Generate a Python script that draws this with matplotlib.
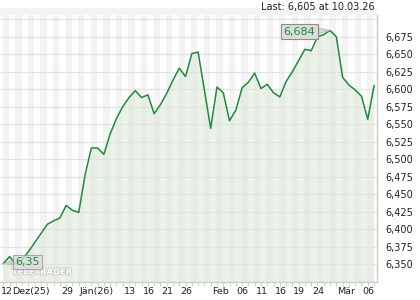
"""
Price chart, 12.12.25 - 10.03.26, TeleTrader style.
Saves out.png (420x300).
"""

import numpy as np
import pandas as pd
import matplotlib
matplotlib.use("Agg")
import matplotlib.pyplot as plt
import matplotlib.patheffects as pe
from matplotlib.patches import Rectangle
from matplotlib.transforms import offset_copy

# ── Data ──────────────────────────────────────────────────────────────────────
holidays = ["2025-12-25", "2025-12-26", "2026-01-01"]
dates = [d for d in pd.bdate_range("2025-12-12", "2026-03-10")
         if d.strftime("%Y-%m-%d") not in holidays]

prices = [
    6.351, 6.361, 6.350, 6.357, 6.368, 6.381, 6.394, 6.407, 6.412, 6.416,
    6.434, 6.427, 6.424, 6.477, 6.516, 6.516, 6.507, 6.536, 6.558, 6.575,
    6.588, 6.598, 6.588, 6.592, 6.565, 6.578, 6.594, 6.613, 6.630, 6.618,
    6.651, 6.653, 6.599, 6.544, 6.603, 6.595, 6.555, 6.570, 6.602, 6.610,
    6.623, 6.601, 6.607, 6.595, 6.589, 6.611, 6.625, 6.641, 6.657, 6.655,
    6.675, 6.678, 6.684, 6.675, 6.617, 6.606, 6.599, 6.590, 6.557, 6.605,
]

tick_dates = ["2025-12-12", "2025-12-15", "2025-12-29", "2026-01-02",
              "2026-01-13", "2026-01-16", "2026-01-21", "2026-01-26",
              "2026-02-02", "2026-02-06", "2026-02-11", "2026-02-16",
              "2026-02-19", "2026-02-24", "2026-03-02", "2026-03-06"]
tick_labels = ["12", "Dez(25)", "29", "Jän(26)", "13", "16", "21", "26",
               "Feb", "06", "11", "16", "19", "24", "Mär", "06"]

y_ticks = [6.350, 6.375, 6.400, 6.425, 6.450, 6.475, 6.500, 6.525,
           6.550, 6.575, 6.600, 6.625, 6.650, 6.675]

last_text = "Last: 6,605 at 10.03.26"
high_label = "6,684"
low_label = "6,35"

# ── Style ─────────────────────────────────────────────────────────────────────
LINE = "#1f8a3c"
GRID = "#e2e2e2"
STRIPE = "#f3f3f3"
FILL = "#dce8d8"
TXT = "#222222"

plt.rcParams["font.family"] = "DejaVu Sans"

x = np.arange(len(prices))
date_str = [d.strftime("%Y-%m-%d") for d in dates]
tick_pos = [date_str.index(d) for d in tick_dates]

fig = plt.figure(figsize=(4.2, 3.0), dpi=100)
fig.patch.set_facecolor("white")
ax = fig.add_axes([0.0, 0.06, 377 / 420, 0.89])

y_lo, y_hi = 6.3246, 6.706
ax.set_xlim(-0.53, len(prices) - 0.53)
ax.set_ylim(y_lo, y_hi)

# top band above the plot
fig.patches.append(Rectangle((0, 0.95), 377 / 420, 0.022, transform=fig.transFigure,
                             facecolor=STRIPE, edgecolor="none", zorder=0))

# alternating day stripes
for i in range(0, len(prices), 2):
    ax.axvspan(i - 0.1, i + 0.9, color=STRIPE, lw=0, zorder=0)

for v in y_ticks + [6.700]:
    ax.axhline(v, color=GRID, lw=0.9, zorder=1)

ax.fill_between(x, prices, y_lo, color=FILL, alpha=0.55, lw=0, zorder=2)
ax.plot(x, prices, color=LINE, lw=1.1, zorder=3)

# ── High / low labels ─────────────────────────────────────────────────────────
hi_i = int(np.argmax(prices))
box = dict(boxstyle="square,pad=0.25", fc="#dcdcdc", ec="#8c8c8c", lw=0.8)
ax.annotate(high_label, xy=(hi_i, prices[hi_i]), xytext=(47.1, 6.6823),
            ha="center", va="center", fontsize=8, color=LINE, bbox=box,
            arrowprops=dict(arrowstyle="wedge,tail_width=0.5", fc="#d4d4d4",
                            ec="#b0b0b0", lw=0.5, shrinkA=0, shrinkB=0),
            zorder=5)
box_lo = dict(boxstyle="square,pad=0.2", fc="#dcdcdc", ec="#9a9a9a", lw=0.8,
              alpha=0.8)
ax.annotate(low_label, xy=(0, prices[0]), xytext=(3.8, 6.3535),
            ha="center", va="center", fontsize=8, color=LINE, bbox=box_lo,
            arrowprops=dict(arrowstyle="wedge,tail_width=0.4", fc="#d4d4d4",
                            ec="#b0b0b0", lw=0.5, shrinkA=0, shrinkB=0),
            zorder=5)

# watermark
ax.text(1.4, 6.339, "TELETRADER", fontsize=6, color="white", fontweight="bold",
        ha="left", va="center", zorder=4,
        path_effects=[pe.withStroke(linewidth=1.2, foreground="#c8c8c8")])

# ── Axes ──────────────────────────────────────────────────────────────────────
for side in ["top", "left"]:
    ax.spines[side].set_visible(False)
for side in ["right", "bottom"]:
    ax.spines[side].set_color("#cccccc")
    ax.spines[side].set_linewidth(1.0)

ax.yaxis.tick_right()
ax.set_yticks(y_ticks)
ax.set_yticklabels([f"{v:.3f}".replace(".", ",") for v in y_ticks],
                   fontsize=7, color=TXT)
ax.tick_params(axis="y", length=0, pad=6)

ax.set_xticks(x, minor=True)
ax.set_xticks(tick_pos)
ax.set_xticklabels([])
ax.tick_params(axis="x", which="both", length=3, color="#cccccc")

# x labels start just right of their tick, like the original
xtrans = ax.get_xaxis_transform()
for pos, lab in zip(tick_pos, tick_labels):
    dx = {"12": -2.0, "Dez(25)": 3.0}.get(lab, 1.0)
    tr = offset_copy(xtrans, fig=fig, x=dx, y=-9.5, units="dots")
    ax.text(pos, 0, lab, transform=tr, ha="left", va="center",
            fontsize=6.8, color=TXT, clip_on=False)

fig.text(375 / 420, 1 - 7 / 300, last_text, ha="right", va="center",
         fontsize=7, color=TXT)

fig.savefig("out.png", dpi=100)
